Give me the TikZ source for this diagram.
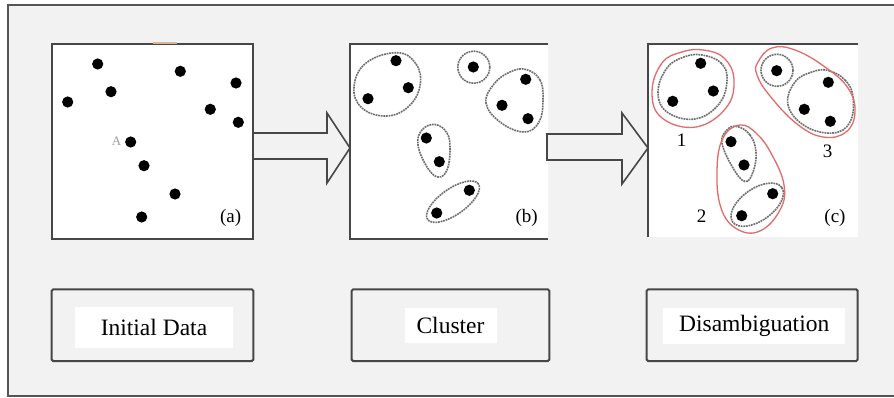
\documentclass[tikz,border=0pt]{standalone}
\usepackage{fontspec}
\setmainfont{Liberation Serif}
\usetikzlibrary{calc}
\definecolor{framegray}{HTML}{555555}
\definecolor{panelgray}{HTML}{474747}
\definecolor{bggray}{HTML}{F2F2F2}
\definecolor{clusgray}{HTML}{6E6E6E}
\definecolor{clusred}{HTML}{E26B6B}
\definecolor{tanmark}{HTML}{D8B596}
\begin{document}
\begin{tikzpicture}[x=1pt,y=-1pt,
  frameline/.style={draw=framegray,line width=2pt},
  panel/.style={fill=white,draw=none,inner sep=0pt,outer sep=0pt},
  pborder/.style={draw=panelgray,line width=2pt},
  blockarrow/.style={fill=bggray,draw=panelgray,line width=1.6pt,line join=miter},
  dot/.style={fill=black},
  clus/.style={draw=clusgray,line width=1.6pt,dash pattern=on 1.8pt off 0.8pt},
  redclus/.style={draw=clusred,line width=1.3pt},
  lbox/.style={draw=panelgray,line width=2pt,rounded corners=1.5pt,inner sep=0pt,fill=bggray},
  ltext/.style={fill=white,inner sep=0pt,font=\fontsize{23.5pt}{26pt}\selectfont},
  plabel/.style={inner sep=0pt,font=\fontsize{19pt}{22pt}\selectfont},
]
\useasboundingbox (0,0) rectangle (894,398);
\fill[white] (0,0) rectangle (894,398);
\fill[bggray] (8,5) rectangle (910,396);
\draw[frameline] (910,5) -- (8,5) -- (8,396) -- (910,396);

% the three data panels
\node[panel,minimum width=201pt,minimum height=195pt] (pa) at (152.5,141.5) {};
\node[panel,minimum width=198pt,minimum height=195pt] (pb) at (449,141.5) {};
\node[panel,minimum width=210pt,minimum height=193pt] (pc) at (753,140.5) {};
\draw[pborder] (pa.north west) rectangle (pa.south east);
\draw[pborder] (pb.north east) -- (pb.north west) -- (pb.south west) -- (pb.south east);
\draw[pborder] (pc.north east) -- (pc.north west) -- (pc.south west);
\draw[tanmark,line width=2pt] (153,43) -- (177,43);

% block arrows between panels
\draw[blockarrow] ($(pa.east)+(0,-8.5)$) -- ($(pa.east)+(74,-8.5)$) -- ($(pa.east)+(74,-28.5)$)
  -- ($(pb.west)+(0,6.5)$) -- ($(pa.east)+(74,41.5)$) -- ($(pa.east)+(74,17.5)$)
  -- ($(pa.east)+(0,17.5)$) -- cycle;
\draw[blockarrow] ($(pb.east)+(-1,-7.5)$) -- ($(pb.east)+(74,-7.5)$) -- ($(pb.east)+(74,-28.5)$)
  -- ($(pc.west)+(0,7.5)$) -- ($(pb.east)+(74,42.5)$) -- ($(pb.east)+(74,18.5)$)
  -- ($(pb.east)+(-1,18.5)$) -- cycle;

% panel (a): initial data points
\foreach \x/\y in {97.7/64,180.3/71.3,236/83,111/91.7,67.7/102,210.3/109.3,238.3/122.3,
  130.7/142,144/165.7,175/194,141.7/217}
  \fill[dot] (\x,\y) circle[radius=5.6pt];
\node[inner sep=0pt,text=gray!75,font=\fontsize{13pt}{14pt}\selectfont] (lA) at (116.5,141) {A};
\node[plabel] (la) at (230.7,218.3) {(a)};

% panel (b): clusters
\foreach \x/\y in {396/60.7,408.3/87.7,368/98.7,473.3/67,525.7/79.3,502/105.3,528/118.7,
  426.3/138,439.3/161.7,469.3/190.3,436.7/213}
  \fill[dot] (\x,\y) circle[radius=5.6pt];
\draw[clus] plot[smooth cycle,tension=0.7] coordinates
  {(397,52.7) (416,64) (420,86) (408,107) (386,116) (362,108) (354,87) (366,63)};
\draw[clus] (473.8,67.2) circle[radius=16pt];
\draw[clus] plot[smooth cycle,tension=0.7] coordinates
  {(526,69.5) (540,80) (543,100) (539,122) (524,132) (500,122) (486,103) (494,84) (510,72)};
\draw[clus] plot[smooth cycle,tension=0.7] coordinates
  {(435,124.5) (447,133) (450,150) (447,170) (438,177) (427,167) (418,145) (422,130)};
\draw[clus,rotate around={35:(453,201.7)}] (453,201.7) ellipse[x radius=31pt,y radius=13pt];
\node[plabel] (lb) at (526.7,218.3) {(b)};

% panel (c): disambiguated groups
\foreach \x/\y in {700.7/63.3,713.3/91,672.7/101.3,776.7/70.7,828.3/82.3,804.3/109.3,830.3/121.3,
  731/141.7,744/165,772.7/193.7,741.7/215.7}
  \fill[dot] (\x,\y) circle[radius=5.6pt];
\draw[clus] plot[smooth cycle,tension=0.7] coordinates
  {(702,55) (721,63) (727,80) (719,104) (695,119) (667,112) (658,92) (667,68) (684,57)};
\draw[redclus] plot[smooth cycle,tension=0.7] coordinates
  {(703,50) (724,58) (734,80) (726,108) (696,127) (662,118) (652,92) (662,63) (682,52)};
\draw[clus] (777,70.3) circle[radius=16pt];
\draw[clus] plot[smooth cycle,tension=0.7] coordinates
  {(828,70.5) (845,80) (853,97) (850,122) (833,133) (805,126) (788,105) (795,82) (812,72)};
\draw[redclus] plot[smooth cycle,tension=0.7] coordinates
  {(758,62) (772,48) (795,50) (825,67) (848,88) (855,112) (846,132) (823,137) (797,124) (770,96) (757,75)};
\draw[clus] plot[smooth cycle,tension=0.7] coordinates
  {(737,126.5) (750,135) (756,152) (753,172) (745,181.5) (733,168) (722,143) (727,130)};
\draw[clus,rotate around={35:(757.2,204.7)}] (757.2,204.7) ellipse[x radius=30pt,y radius=16pt];
\draw[redclus] plot[smooth cycle,tension=0.7] coordinates
  {(740,125) (757,134) (772,155) (784,185) (780,210) (760,231) (737,229) (721,208) (717,170) (723,138)};
\node[plabel] (n1) at (681.7,140) {1};
\node[plabel] (n3) at (827.7,151) {3};
\node[plabel] (n2) at (701.7,216.7) {2};
\node[plabel] (lc) at (835,218.3) {(c)};

% stage captions
\node[lbox,minimum width=201.6pt,minimum height=71.7pt] (ba) at (152.5,325.2) {};
\node[ltext,minimum width=158pt,minimum height=41pt] (ta) at (154,327.8) {Initial Data};
\node[lbox,minimum width=197.6pt,minimum height=71.7pt] (bb) at (450.5,325.2) {};
\node[ltext,minimum width=92pt,minimum height=35pt] (tb) at (450.5,325.8) {Cluster};
\node[lbox,minimum width=211pt,minimum height=71.7pt] (bc) at (752.2,325.2) {};
\node[ltext,minimum width=182pt,minimum height=36pt] (tc) at (754.2,326.3) {Disambiguation};
\end{tikzpicture}
\end{document}
